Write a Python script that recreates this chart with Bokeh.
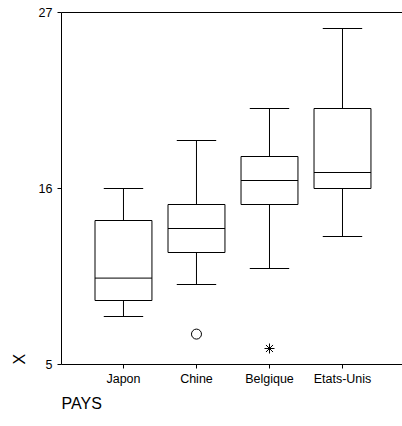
from bokeh.plotting import figure
from bokeh.models import FixedTicker, Title, ColumnDataSource, Range1d, LinearAxis
from bokeh.embed import file_html
from bokeh.resources import INLINE

# ---- data ----
pays = ["Japon", "Chine", "Belgique", "Etats-Unis"]
q1 = [9, 12, 15, 16]
med = [10.4, 13.5, 16.5, 17]
q3 = [14, 15, 18, 21]
low = [8, 10, 11, 13]
high = [16, 19, 21, 26]
outlier_circle_pays = ["Chine"]
outlier_circle_val = [6.9]
outlier_star_pays = ["Belgique"]
outlier_star_val = [6]
y_ticks = [5, 16, 27]

FONT = "Liberation Sans"
BOX_W = 0.78
CAP_W = 0.54

pos = [i + 1 for i in range(len(pays))]
src = ColumnDataSource(dict(
    x=pos,
    x0=[x - BOX_W / 2 for x in pos], x1=[x + BOX_W / 2 for x in pos],
    c0=[x - CAP_W / 2 for x in pos], c1=[x + CAP_W / 2 for x in pos],
    q1=q1, med=med, q3=q3, low=low, high=high,
))

p = figure(frame_width=341, frame_height=352, output_backend="svg", toolbar_location=None,
           x_range=Range1d(0.151, 4.822), y_range=Range1d(5, 27),
           min_border_left=61, min_border_top=12, min_border_right=0,
           min_border_bottom=0)
p.outline_line_color = None
p.grid.visible = False
p.background_fill_color = "white"

xax = p.below[0]
yax = p.left[0]

# whiskers
p.segment(x0="x", x1="x", y0="q3", y1="high", source=src, line_color="black", line_width=1)
p.segment(x0="x", x1="x", y0="low", y1="q1", source=src, line_color="black", line_width=1)
p.segment(x0="c0", x1="c1", y0="high", y1="high", source=src, line_color="black", line_width=1)
p.segment(x0="c0", x1="c1", y0="low", y1="low", source=src, line_color="black", line_width=1)
# boxes
p.vbar(x="x", width=BOX_W, bottom="q1", top="q3", source=src,
       fill_color="white", line_color="black", line_width=1)
p.segment(x0="x0", x1="x1", y0="med", y1="med", source=src, line_color="black", line_width=1)

# outliers
p.scatter([pos[pays.index(c)] for c in outlier_circle_pays], outlier_circle_val,
          marker="circle", size=10, fill_color=None, line_color="black", line_width=1)
p.scatter([pos[pays.index(c)] for c in outlier_star_pays], outlier_star_val,
          marker="asterisk", size=10, line_color="black", line_width=1)

# axes
xax.ticker = FixedTicker(ticks=pos)
xax.major_label_overrides = {x: n for x, n in zip(pos, pays)}
yax.ticker = FixedTicker(ticks=y_ticks)
for ax in (xax, yax):
    ax.axis_line_color = "black"
    ax.axis_line_width = 1
    ax.major_tick_line_color = "black"
    ax.major_tick_out = 4
    ax.major_tick_in = 0
    ax.minor_tick_line_color = None
    ax.major_label_text_font = FONT
    ax.major_label_text_font_size = "12.5px"
    ax.major_label_text_color = "black"
xax.major_label_standoff = 3

# top line (bare axis above, no ticks, no labels)
top_axis = LinearAxis(ticker=FixedTicker(ticks=[]), major_tick_line_color=None,
                      minor_tick_line_color=None, axis_line_color="black", axis_line_width=1)
p.add_layout(top_axis, "above")

p.add_layout(Title(text="PAYS", align="left", text_font=FONT, text_font_size="16px",
                   text_font_style="normal", text_color="black", standoff=9), "below")
p.add_layout(Title(text="X", align="left", text_font=FONT, text_font_size="16px",
                   text_font_style="normal", text_color="black", standoff=16), "left")

open("out.html", "w").write(file_html(p, INLINE))
